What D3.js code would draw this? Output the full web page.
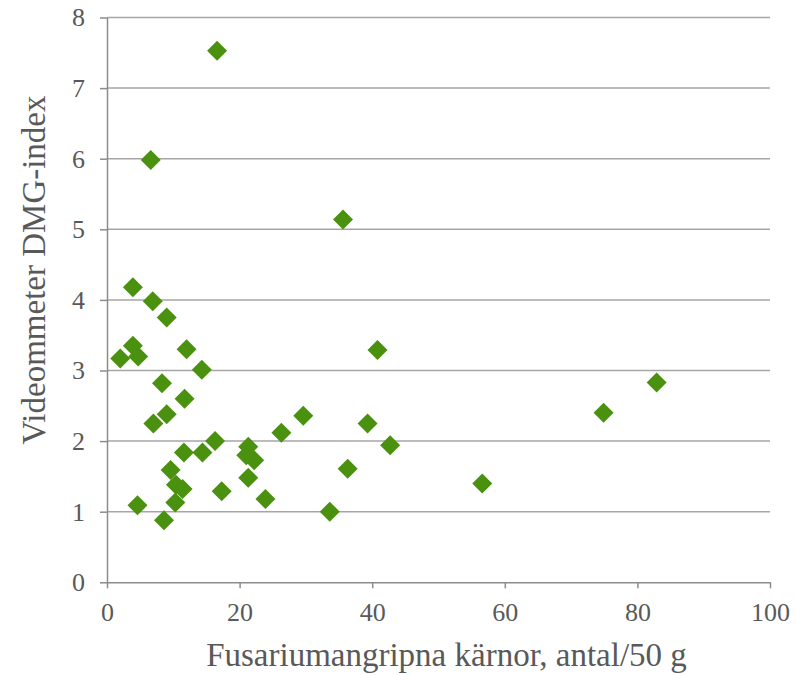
<!DOCTYPE html>
<html>
  <head>
    <title>Videommeter DMG-index</title>
    <script src="https://d3js.org/d3.v7.min.js"></script>
    <style>
      html, body {
        margin:0;
        padding:0;
        background:#fff;
      }
      text {
        font-family:"Liberation Serif", "Times New Roman", serif;
        fill:#595959;
      }
    </style>
  </head>
  <body>
    <svg id="chart" width="796" height="675"></svg>
    <script>
      // fusarium infected kernels (count / 50 g)
      var fusarium = [3.9, 6.9, 9.0, 3.9, 2.0, 4.7, 12.0, 14.3, 8.3, 11.7,
                      9.0, 7.0, 11.6, 14.4, 16.3, 9.6, 10.4, 11.4, 10.3, 4.6,
                      8.6, 17.3, 21.3, 21.0, 22.2, 21.3, 23.9, 26.3, 29.6, 39.3,
                      42.7, 36.3, 33.6, 35.6, 40.8, 16.6, 6.6, 82.9, 74.9, 56.6];
      // videometer DMG index
      var dmg = [4.18, 3.98, 3.75, 3.35, 3.17, 3.20, 3.30, 3.01, 2.82, 2.60,
                 2.38, 2.25, 1.84, 1.84, 2.00, 1.59, 1.38, 1.32, 1.13, 1.09,
                 0.88, 1.29, 1.92, 1.80, 1.73, 1.48, 1.18, 2.12, 2.36, 2.25,
                 1.94, 1.61, 1.00, 5.14, 3.29, 7.53, 5.98, 2.83, 2.40, 1.40];
      var xTicks = [0, 20, 40, 60, 80, 100];
      var yTicks = [0, 1, 2, 3, 4, 5, 6, 7, 8];

      var svg = d3.select("#chart");
      var plotLeft = 107, plotRight = 770, plotTop = 17.5, plotBottom = 582.3;

      var x = d3.scaleLinear().domain([0, 100]).range([plotLeft, plotRight]);
      var y = d3.scaleLinear().domain([0, 8]).range([plotBottom, plotTop]);

      // horizontal grid
      svg.append("g").selectAll("line")
        .data(yTicks.filter(d => d > 0))
        .join("line")
        .attr("x1", plotLeft).attr("x2", plotRight)
        .attr("y1", d => y(d)).attr("y2", d => y(d))
        .attr("stroke", "#a6a6a6").attr("stroke-width", 1.5);

      var xAxis = svg.append("g")
        .attr("transform", "translate(0," + plotBottom + ")")
        .call(d3.axisBottom(x).tickValues(xTicks).tickSize(6).tickPadding(14).tickSizeOuter(0));
      var yAxis = svg.append("g")
        .attr("transform", "translate(" + plotLeft + ",0)")
        .call(d3.axisLeft(y).tickValues(yTicks).tickSize(7).tickPadding(15).tickSizeOuter(0));

      [xAxis, yAxis].forEach(function(a) {
        a.select(".domain").attr("stroke", "#8c8c8c").attr("stroke-width", 1.5);
        a.selectAll(".tick line").attr("stroke", "#8c8c8c").attr("stroke-width", 1.5);
        a.selectAll(".tick text")
          .style("font-family", "'Liberation Serif', serif")
          .style("font-size", "26px")
          .attr("fill", "#595959");
      });

      // diamonds
      var diamond = d3.symbol().type(d3.symbolSquare).size(200);
      svg.append("g").selectAll("path")
        .data(fusarium.map((v, i) => [v, dmg[i]]))
        .join("path")
        .attr("d", diamond)
        .attr("transform", d => "translate(" + x(d[0]) + "," + y(d[1]) + ") rotate(45)")
        .attr("fill", "#4a910f");

      svg.append("text")
        .attr("x", (plotLeft + plotRight) / 2 + 8)
        .attr("y", 666)
        .attr("text-anchor", "middle")
        .style("font-size", "33px")
        .text("Fusariumangripna kärnor, antal/50 g");

      svg.append("text")
        .attr("transform", "translate(45,270) rotate(-90)")
        .attr("text-anchor", "middle")
        .style("font-size", "33px")
        .text("Videommeter DMG-index");
    </script>
  </body>
</html>
